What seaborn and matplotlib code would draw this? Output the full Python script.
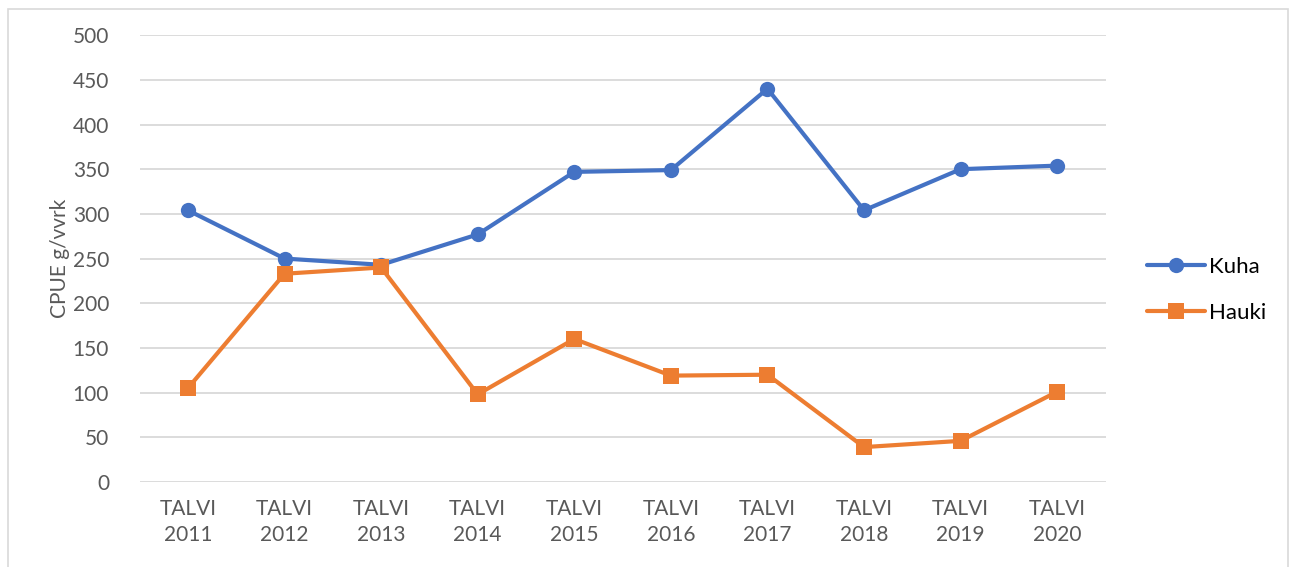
import numpy as np
import pandas as pd
import matplotlib
matplotlib.use("Agg")
import matplotlib.pyplot as plt
import seaborn as sns
from matplotlib.patches import Rectangle

# data
seasons = ["TALVI\n2011", "TALVI\n2012", "TALVI\n2013", "TALVI\n2014", "TALVI\n2015",
           "TALVI\n2016", "TALVI\n2017", "TALVI\n2018", "TALVI\n2019", "TALVI\n2020"]
kuha = [304, 250, 243, 277, 347, 349, 440, 304, 350, 354]
hauki = [105, 233, 240, 98, 160, 119, 120, 39, 46, 101]

df = pd.DataFrame({
    "season": seasons * 2,
    "x": list(range(len(seasons))) * 2,
    "cpue": kuha + hauki,
    "laji": ["Kuha"] * len(kuha) + ["Hauki"] * len(hauki),
})

sns.set_style("white")
plt.rcParams['font.family'] = ['Lato', 'DejaVu Sans']

fig = plt.figure(figsize=(12.93, 5.67), dpi=100)
ax = fig.add_axes([0.108, 0.15, 0.747, 0.788])

palette = {"Kuha": "#4472C4", "Hauki": "#ED7D31"}
markers = {"Kuha": "o", "Hauki": "s"}
sns.lineplot(data=df, x="x", y="cpue", hue="laji", style="laji",
             palette=palette, markers=markers, dashes=False,
             linewidth=3, markersize=11, markeredgewidth=0, ax=ax)

ax.set_xlim(-0.5, len(seasons) - 0.5)
ax.set_ylim(0, 500)
ax.set_yticks(np.arange(0, 501, 50))
ax.set_xticks(range(len(seasons)))
ax.set_xticklabels(seasons, linespacing=1.4)
ax.tick_params(axis="both", length=0, labelsize=15, labelcolor="#595959")
ax.tick_params(axis="x", pad=12)
ax.tick_params(axis="y", pad=22)
ax.yaxis.grid(True, color="#D9D9D9", linewidth=1.3)
ax.set_axisbelow(True)
for s in ax.spines.values():
    s.set_visible(False)
ax.set_xlabel("")
ax.set_ylabel("CPUE g/vvrk", fontsize=15, color="#595959", labelpad=2)

leg = ax.legend(loc="center left", bbox_to_anchor=(1.022, 0.43), frameon=False,
                fontsize=16, handlelength=2.6, labelspacing=1.15, handletextpad=0.2)
for t in leg.get_texts():
    t.set_color("#000000")

# chart border like the original
fig.patches.append(Rectangle((0.006, -0.01), 0.99, 0.995, transform=fig.transFigure,
                             fill=False, edgecolor="#D9D9D9", linewidth=1.2))

fig.savefig("out.png", dpi=100)
